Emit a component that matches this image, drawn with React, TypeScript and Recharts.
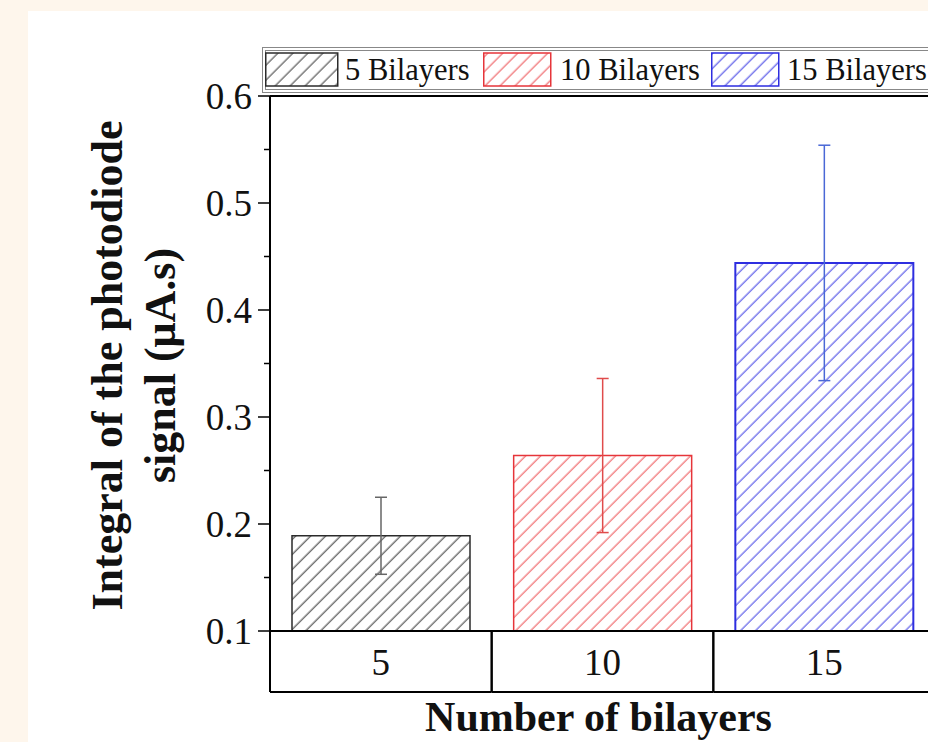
import React from 'react';
import {
  BarChart,
  Bar,
  XAxis,
  YAxis,
  ErrorBar,
  Legend,
  ReferenceLine,
} from 'recharts';

// Values
const categories = ['5', '10', '15'];
const means = [0.189, 0.264, 0.444];
const errors = [0.036, 0.072, 0.11];
const seriesNames = ['5 Bilayers', '10 Bilayers', '15 Bilayers'];
const yTicks = [0.1, 0.15, 0.2, 0.25, 0.3, 0.35, 0.4, 0.45, 0.5, 0.55, 0.6];

const STROKES = ['#2b2b2b', '#e6353a', '#2e2ee0'];
const HATCH = ['#444444', '#ee5a5e', '#4a4ae6'];
const ERR = ['#666666', '#e04b4b', '#4a68d6'];

const FONT = "'Liberation Serif', 'Times New Roman', serif";

// one row per category, each series only has a value in its own category
const chartData = categories.map((cat, i) => {
  const row: any = { cat };
  categories.forEach((_, j) => {
    row[`v${j}`] = i === j ? means[i] : null;
    row[`e${j}`] = i === j ? errors[i] : null;
  });
  return row;
});

const BAR_SIZE = 178;

const HatchDefs = () => (
  <defs>
    {HATCH.map((c, i) => (
      <pattern
        key={i}
        id={`hatch-${i}`}
        patternUnits="userSpaceOnUse"
        width={10.6}
        height={10.6}
        patternTransform="rotate(45)"
      >
        <rect width={10.6} height={10.6} fill="#fff" />
        <line x1={5} y1={0} x2={5} y2={10.6} stroke={c} strokeWidth={1.1} />
      </pattern>
    ))}
  </defs>
);

const YTick = ({ x, y, payload }: any) => {
  const v = payload.value;
  const major = Math.round(v * 100) % 10 === 0;
  return (
    <g>
      <line x1={x - (major ? 12 : 6)} y1={y} x2={x} y2={y} stroke="#000" strokeWidth={1.5} />
      {major && (
        <text
          x={x - 18}
          y={y}
          textAnchor="end"
          dominantBaseline="central"
          fontFamily={FONT}
          fontSize={37}
          fill="#111"
        >
          {v.toFixed(1)}
        </text>
      )}
    </g>
  );
};

const XTick = ({ x, y, payload }: any) => {
  const half = payload.offset || 110.8;
  return (
    <g>
      <line x1={x - half} y1={y} x2={x - half} y2={y + 61} stroke="#000" strokeWidth={2} />
      <line x1={x + half} y1={y} x2={x + half} y2={y + 61} stroke="#000" strokeWidth={2} />
      <line x1={x - half} y1={y + 61} x2={x + half} y2={y + 61} stroke="#000" strokeWidth={2} />
      <text
        x={x}
        y={y + 31}
        textAnchor="middle"
        dominantBaseline="central"
        fontFamily={FONT}
        fontSize={37}
        fill="#111"
      >
        {payload.value}
      </text>
    </g>
  );
};

const YTitle = ({ viewBox }: any) => {
  const cy = viewBox.y + viewBox.height / 2 + 2;
  const lines = ['Integral of the photodiode', 'signal (\u03bcA.s)'];
  const xs = [107, 160];
  return (
    <g>
      {lines.map((t, i) => (
        <text
          key={i}
          x={xs[i]}
          y={cy}
          transform={`rotate(-90 ${xs[i]} ${cy})`}
          textAnchor="middle"
          dominantBaseline="central"
          fontFamily={FONT}
          fontWeight="bold"
          fontSize={44}
          fill="#111"
        >
          {t}
        </text>
      ))}
    </g>
  );
};

const XTitle = ({ viewBox }: any) => (
  <text
    x={viewBox.x + viewBox.width / 2 - 4}
    y={731}
    textAnchor="middle"
    fontFamily={FONT}
    fontWeight="bold"
    fontSize={42}
    fill="#111"
  >
    Number of bilayers
  </text>
);

// legend item offsets inside the box (swatch x, text x)
const LEG_SWATCH_X = [3, 221, 449];
const LEG_SWATCH_W = [72, 67, 67];
const LEG_TEXT_X = [83, 298, 525];

const LegendBox = () => (
  <svg width={700} height={47} style={{ display: 'block' }}>
    <rect x={0.5} y={0.5} width={720} height={45} fill="#fff" stroke="#888" strokeWidth={1} />
    <rect x={3.5} y={3.5} width={720} height={39} fill="none" stroke="#888" strokeWidth={1} />
    {seriesNames.map((name, i) => (
      <g key={name}>
        <rect
          x={LEG_SWATCH_X[i] + 0.75}
          y={6}
          width={LEG_SWATCH_W[i]}
          height={33}
          fill={`url(#hatch-${i})`}
          stroke={STROKES[i]}
          strokeWidth={1.5}
        />
        <text
          x={LEG_TEXT_X[i]}
          y={23}
          dominantBaseline="central"
          fontFamily={FONT}
          fontSize={30.5}
          fill="#111"
        >
          {name}
        </text>
      </g>
    ))}
  </svg>
);

export default function App() {
  return (
    <div
      style={{
        position: 'absolute',
        left: 0,
        top: 0,
        width: 928,
        height: 742,
        overflow: 'hidden',
        background: '#fef6ec',
      }}
    >
      <div
        style={{
          position: 'absolute',
          left: 28,
          top: 11,
          right: 0,
          bottom: 0,
          background: '#fff',
        }}
      />
      <div style={{ position: 'absolute', left: 0, top: 0 }}>
        <BarChart
          width={960}
          height={742}
          data={chartData}
          margin={{ top: 96, right: 25, left: 0, bottom: 0 }}
          barGap={-BAR_SIZE}
          style={{ overflow: 'visible' }}
        >
          <HatchDefs />
          <XAxis
            dataKey="cat"
            height={111}
            tickLine={false}
            tickSize={0}
            tickMargin={0}
            axisLine={{ stroke: '#000', strokeWidth: 2 }}
            tick={<XTick />}
            interval={0}
            label={<XTitle />}
          />
          <YAxis
            width={270}
            domain={[0.1, 0.6]}
            ticks={yTicks}
            interval={0}
            tickLine={false}
            tickSize={0}
            tickMargin={0}
            axisLine={{ stroke: '#000', strokeWidth: 2 }}
            tick={<YTick />}
            label={<YTitle />}
          />
          <ReferenceLine y={0.6} stroke="#000" strokeWidth={2} />
          <Legend
            layout="vertical"
            align="center"
            verticalAlign="middle"
            content={<LegendBox />}
            wrapperStyle={{ top: 47, left: 262, width: 700 }}
          />
          {seriesNames.map((name, i) => (
            <Bar
              key={name}
              name={name}
              dataKey={`v${i}`}
              barSize={BAR_SIZE}
              fill={`url(#hatch-${i})`}
              stroke={STROKES[i]}
              strokeWidth={i === 2 ? 2 : 1.5}
              isAnimationActive={false}
            >
              <ErrorBar dataKey={`e${i}`} width={6} stroke={ERR[i]} strokeWidth={1.5} />
            </Bar>
          ))}
        </BarChart>
      </div>
    </div>
  );
}
